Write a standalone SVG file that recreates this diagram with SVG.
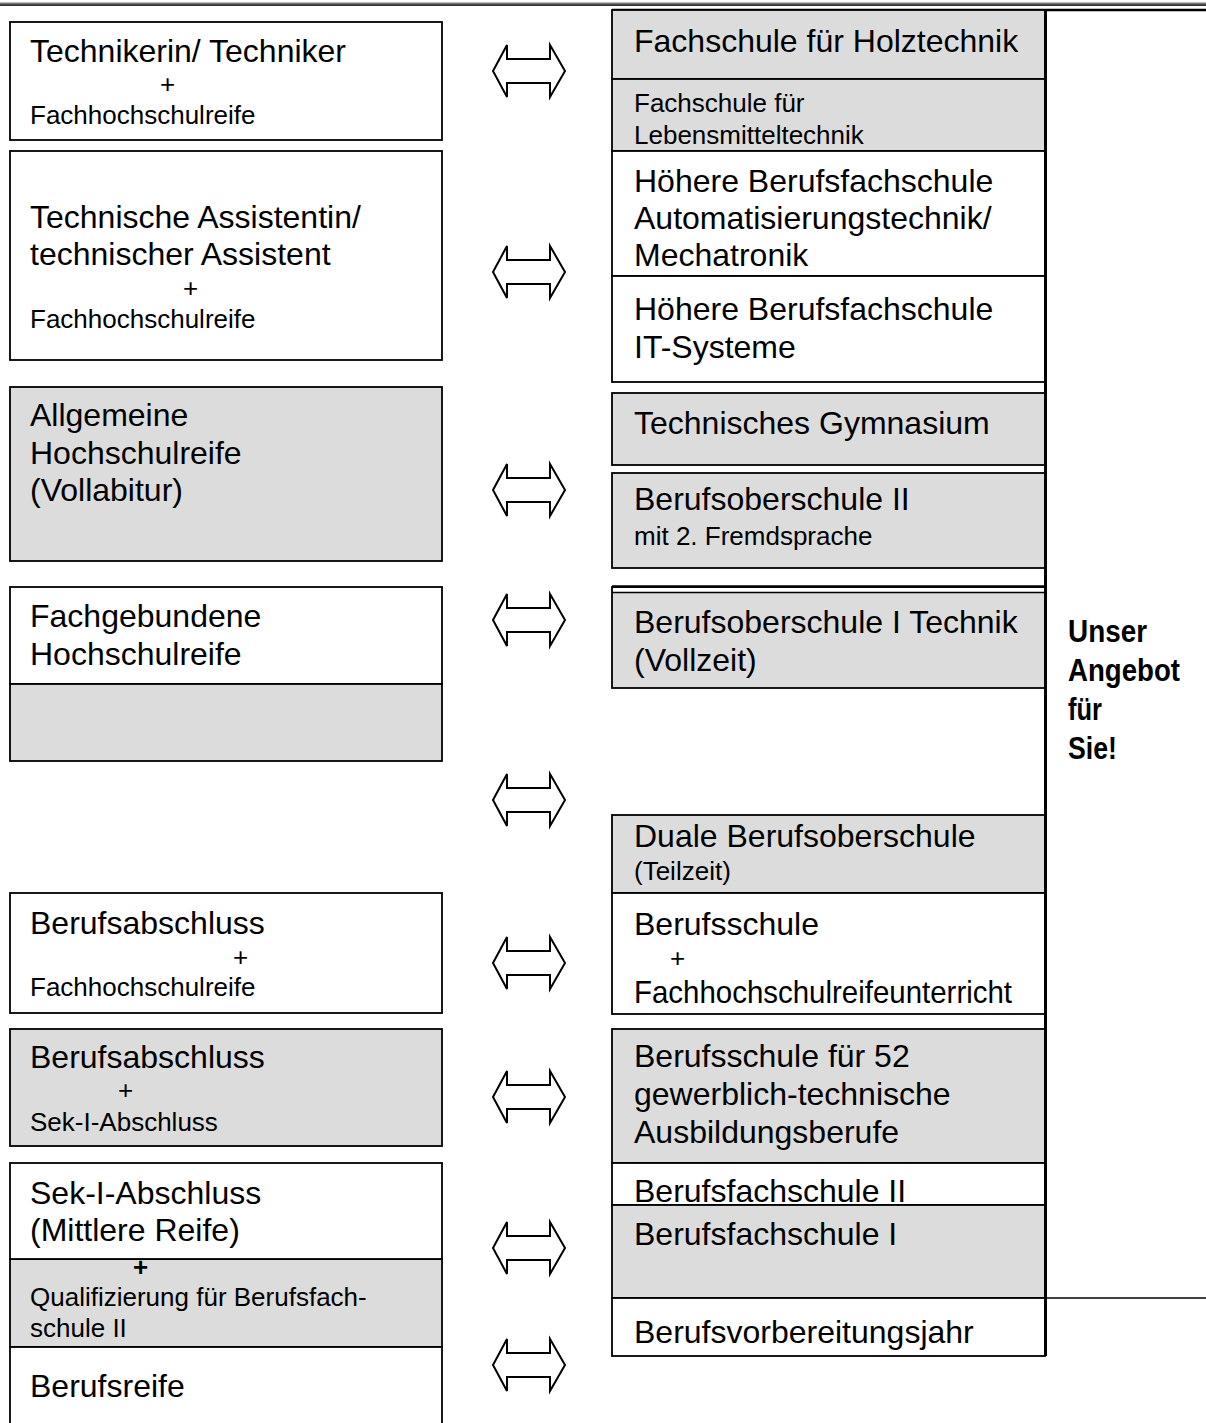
<svg xmlns="http://www.w3.org/2000/svg" width="1206" height="1423" viewBox="0 0 1206 1423">
<style>
.w{fill:#ffffff;stroke:#000;stroke-width:1.8}
.g{fill:#dcdcdc;stroke:#000;stroke-width:1.8}
.L{font-family:"Liberation Sans",Arial,sans-serif;font-size:32px;fill:#000}
.S{font-family:"Liberation Sans",Arial,sans-serif;font-size:26px;fill:#000}
.B{font-family:"Liberation Sans",Arial,sans-serif;font-size:31px;font-weight:bold;fill:#000}
.arr{fill:#fff;stroke:#000;stroke-width:2;stroke-linejoin:miter}
</style>
<defs>
<path id="dbl" class="arr" d="M-36,0 L-22,-26 L-22,-12 L21,-12 L21,-26 L36,0 L21,26 L21,12 L-22,12 L-22,26 Z"/>
</defs>
<rect x="0" y="0" width="1206" height="1423" fill="#fff"/>
<rect x="0" y="2.5" width="1206" height="1.5" fill="#777"/>
<rect x="0" y="4.3" width="1206" height="1.5" fill="#000"/>

<g id="frame">
<line x1="612" y1="10" x2="1206" y2="10" stroke="#000" stroke-width="2.5"/>
<line x1="1045" y1="1298" x2="1206" y2="1298" stroke="#000" stroke-width="1.5"/>
</g>

<g id="n-techniker">
<rect class="w" x="10" y="22" width="432" height="118"/>
<text class="L" x="30" y="62">Technikerin/ Techniker</text>
<text class="S" x="160" y="93">+</text>
<text class="S" x="30" y="124">Fachhochschulreife</text>
</g>
<g id="n-assistent">
<rect class="w" x="10" y="151" width="432" height="209"/>
<text class="L" x="30" y="228">Technische Assistentin/</text>
<text class="L" x="30" y="265">technischer Assistent</text>
<text class="S" x="183" y="297">+</text>
<text class="S" x="30" y="328">Fachhochschulreife</text>
</g>
<g id="n-abitur">
<rect class="g" x="10" y="387" width="432" height="174"/>
<text class="L" x="30" y="426">Allgemeine</text>
<text class="L" x="30" y="464">Hochschulreife</text>
<text class="L" x="30" y="501">(Vollabitur)</text>
</g>
<g id="n-fachgebunden">
<rect class="w" x="10" y="587" width="432" height="97"/>
<rect class="g" x="10" y="684" width="432" height="77"/>
<text class="L" x="30" y="627">Fachgebundene</text>
<text class="L" x="30" y="665">Hochschulreife</text>
</g>
<g id="n-beruf-fhr">
<rect class="w" x="10" y="893" width="432" height="120"/>
<text class="L" x="30" y="934">Berufsabschluss</text>
<text class="S" x="233" y="966">+</text>
<text class="S" x="30" y="996">Fachhochschulreife</text>
</g>
<g id="n-beruf-sek">
<rect class="g" x="10" y="1029" width="432" height="117"/>
<text class="L" x="30" y="1068">Berufsabschluss</text>
<text class="S" x="118" y="1099">+</text>
<text class="S" x="30" y="1131">Sek-I-Abschluss</text>
</g>
<g id="n-quali">
<rect class="g" x="10" y="1259" width="432" height="88"/>
<text class="S" x="133" y="1276" font-weight="bold">+</text>
<text class="S" x="30" y="1306">Qualifizierung für Berufsfach-</text>
<text class="S" x="30" y="1337">schule II</text>
</g>
<g id="n-sek">
<rect class="w" x="10" y="1163" width="432" height="96"/>
<text class="L" x="30" y="1204">Sek-I-Abschluss</text>
<text class="L" x="30" y="1241">(Mittlere Reife)</text>
</g>
<g id="n-berufsreife">
<rect class="w" x="10" y="1347" width="432" height="90"/>
<text class="L" x="30" y="1397">Berufsreife</text>
</g>

<g id="n-holz">
<rect class="g" x="612" y="10" width="433" height="69"/>
<text class="L" x="634" y="52">Fachschule für Holztechnik</text>
</g>
<g id="n-lebensmittel">
<rect class="g" x="612" y="79" width="433" height="72"/>
<text class="S" x="634" y="112">Fachschule für</text>
<text class="S" x="634" y="144">Lebensmitteltechnik</text>
</g>
<g id="n-hbf-auto">
<rect class="w" x="612" y="151" width="433" height="125"/>
<text class="L" x="634" y="192">Höhere Berufsfachschule</text>
<text class="L" x="634" y="229">Automatisierungstechnik/</text>
<text class="L" x="634" y="266">Mechatronik</text>
</g>
<g id="n-hbf-it">
<rect class="w" x="612" y="276" width="433" height="106"/>
<text class="L" x="634" y="320">Höhere Berufsfachschule</text>
<text class="L" x="634" y="358">IT-Systeme</text>
</g>
<g id="n-tg">
<rect class="g" x="612" y="393" width="433" height="72"/>
<text class="L" x="634" y="434">Technisches Gymnasium</text>
</g>
<g id="n-bos2">
<rect class="g" x="612" y="473" width="433" height="95"/>
<text class="L" x="634" y="510">Berufsoberschule II</text>
<text class="S" x="634" y="545">mit 2. Fremdsprache</text>
</g>
<g id="n-bos1">
<rect class="g" x="612" y="587" width="433" height="101"/>
<line x1="612" y1="586.5" x2="1045" y2="586.5" stroke="#000" stroke-width="2.5"/>
<rect x="613" y="588" width="431" height="4" fill="#fff"/>
<line x1="612" y1="592.5" x2="1045" y2="592.5" stroke="#000" stroke-width="1.5"/>
<text class="L" x="634" y="633">Berufsoberschule I Technik</text>
<text class="L" x="634" y="671">(Vollzeit)</text>
</g>
<g id="n-dbos">
<rect class="g" x="612" y="815" width="433" height="78"/>
<text class="L" x="634" y="847">Duale Berufsoberschule</text>
<text class="S" x="634" y="880">(Teilzeit)</text>
</g>
<g id="n-bs-fhr">
<rect class="w" x="612" y="893" width="433" height="121"/>
<text class="L" x="634" y="935">Berufsschule</text>
<text class="S" x="670" y="967">+</text>
<text class="L" x="634" y="1003" textLength="378" lengthAdjust="spacingAndGlyphs">Fachhochschulreifeunterricht</text>
</g>
<g id="n-bs52">
<rect class="g" x="612" y="1029" width="433" height="134"/>
<text class="L" x="634" y="1067">Berufsschule für 52</text>
<text class="L" x="634" y="1105">gewerblich-technische</text>
<text class="L" x="634" y="1143">Ausbildungsberufe</text>
</g>
<g id="n-bfs2">
<rect class="w" x="612" y="1163" width="433" height="42"/>
<text class="L" x="634" y="1202">Berufsfachschule II</text>
</g>
<g id="n-bfs1">
<rect class="g" x="612" y="1205" width="433" height="93"/>
<text class="L" x="634" y="1245">Berufsfachschule I</text>
</g>
<g id="n-bvj">
<rect class="w" x="612" y="1298" width="433" height="58"/>
<text class="L" x="634" y="1343">Berufsvorbereitungsjahr</text>
</g>
<line x1="1045.5" y1="10" x2="1045.5" y2="1356" stroke="#000" stroke-width="3"/>

<g id="n-angebot">
<text class="B" x="1068" y="642" textLength="79" lengthAdjust="spacingAndGlyphs">Unser</text>
<text class="B" x="1068" y="681" textLength="112" lengthAdjust="spacingAndGlyphs">Angebot</text>
<text class="B" x="1068" y="720" textLength="34" lengthAdjust="spacingAndGlyphs">für</text>
<text class="B" x="1068" y="759" textLength="49" lengthAdjust="spacingAndGlyphs">Sie!</text>
</g>

<g id="connectors">
<use href="#dbl" x="529" y="71"/>
<use href="#dbl" x="529" y="272"/>
<use href="#dbl" x="529" y="490"/>
<use href="#dbl" x="529" y="620"/>
<use href="#dbl" x="529" y="800"/>
<use href="#dbl" x="529" y="963"/>
<use href="#dbl" x="529" y="1097"/>
<use href="#dbl" x="529" y="1248"/>
<use href="#dbl" x="529" y="1365"/>
</g>
</svg>
